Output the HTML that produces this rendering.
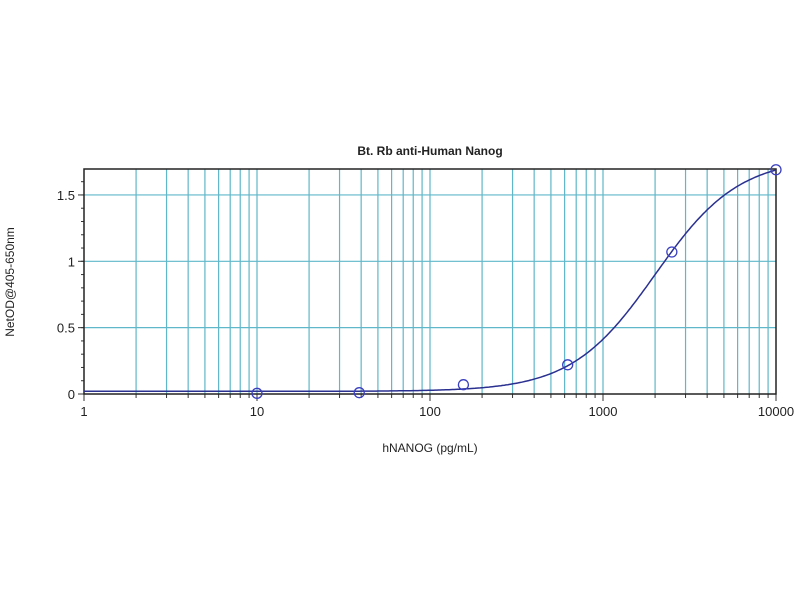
<!DOCTYPE html>
<html><head><style>body{margin:0;background:#fff}svg{display:block}text{font-family:"Liberation Sans",sans-serif;fill:#222}</style></head>
<body>
<svg id="s" width="800" height="600" xmlns="http://www.w3.org/2000/svg">
<text x="430" y="155" font-size="12" font-weight="bold" text-anchor="middle">Bt. Rb anti-Human Nanog</text>
<text x="430" y="452" font-size="12" text-anchor="middle">hNANOG (pg/mL)</text>
<text transform="translate(14,282) rotate(-90)" font-size="12" text-anchor="middle">NetOD@405-650nm</text>
</svg>
<script>
var s=document.getElementById('s'),NS='http://www.w3.org/2000/svg';
var L=84,R=776,T=169,B=394,D=(R-L)/4,U=132.7;
function X(v){return L+Math.log10(v)*D}function Y(v){return B-v*U}
function el(n,a){var e=document.createElementNS(NS,n);for(var k in a)e.setAttribute(k,a[k]);s.appendChild(e);return e}
for(var d=0;d<4;d++)for(var m=2;m<=9;m++){var x=X(m*Math.pow(10,d));el('line',{x1:x,x2:x,y1:T,y2:B,stroke:'#5fb7c9','stroke-width':1.2});el('line',{x1:x,x2:x,y1:B,y2:B+4,stroke:'#333'});}
for(var d=1;d<4;d++){var x=X(Math.pow(10,d));el('line',{x1:x,x2:x,y1:T,y2:B,stroke:'#5fb7c9','stroke-width':1.2});}
[0.5,1,1.5].forEach(function(v){el('line',{x1:L,x2:R,y1:Y(v),y2:Y(v),stroke:'#5fb7c9','stroke-width':1.2})});
for(var v=0;v<=1.7;v+=0.1){el('line',{x1:L-3,x2:L,y1:Y(v),y2:Y(v),stroke:'#333'})}
[0,0.5,1,1.5].forEach(function(v){el('line',{x1:L-6,x2:L,y1:Y(v),y2:Y(v),stroke:'#333'});var t=el('text',{x:L-9,y:Y(v)+5,'font-size':13,'text-anchor':'end'});t.textContent=v});
for(var d=0;d<=4;d++){var x=X(Math.pow(10,d));el('line',{x1:x,x2:x,y1:B,y2:B+7,stroke:'#333'});var t=el('text',{x:x,y:B+22,'font-size':13,'text-anchor':'middle'});t.textContent=Math.pow(10,d);}
el('rect',{x:L,y:T,width:R-L,height:B-T,fill:'none',stroke:'#222','stroke-width':1.5});
var p='';for(var i=0;i<=400;i++){var lx=i/100,x=Math.pow(10,lx);var y=1.78-1.76/(1+Math.pow(x/2000,1.8));p+=(i?'L':'M')+X(x).toFixed(1)+','+Y(y).toFixed(1);}
el('path',{d:p,fill:'none',stroke:'#2a3090','stroke-width':1.5});
[[10,0.005],[39,0.01],[156,0.07],[625,0.22],[2500,1.07],[10000,1.69]].forEach(function(q){el('circle',{cx:X(q[0]),cy:Y(q[1]),r:5,fill:'none',stroke:'#3a3fc0','stroke-width':1.3})});
</script>
</body></html>
